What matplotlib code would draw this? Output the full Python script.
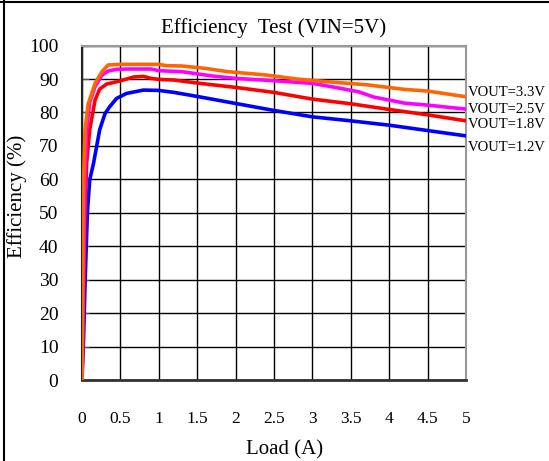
import matplotlib
matplotlib.use("Agg")
import matplotlib.pyplot as plt
from matplotlib.lines import Line2D

plt.rcParams['font.family'] = ['Liberation Serif', 'DejaVu Serif']

# Data
x_12 = [0.0, 0.02, 0.04, 0.07, 0.1, 0.15, 0.19, 0.23, 0.3, 0.36, 0.45, 0.58, 0.8, 1.0, 1.2, 1.5, 2.0, 2.5, 3.0, 3.5, 4.0, 4.5, 5.0]
y_12 = [0, 12, 29, 50, 59.8, 64.8, 69.8, 74.8, 79.7, 81.7, 84.2, 85.7, 86.7, 86.6, 86.0, 84.8, 82.7, 80.6, 78.7, 77.5, 76.2, 74.6, 73.0]

x_18 = [0.0, 0.02, 0.04, 0.06, 0.1, 0.17, 0.23, 0.32, 0.49, 0.67, 0.8, 0.9, 1.0, 1.2, 1.5, 2.0, 2.5, 3.0, 3.5, 4.0, 4.5, 5.0]
y_18 = [0, 25, 50, 64.8, 74.8, 83.7, 87.0, 88.5, 89.4, 90.6, 90.8, 90.2, 89.9, 89.7, 88.8, 87.5, 86.0, 84.0, 82.6, 80.9, 79.3, 77.5]

x_25 = [0.0, 0.02, 0.04, 0.06, 0.1, 0.17, 0.26, 0.34, 0.45, 0.6, 0.9, 1.0, 1.3, 1.7, 2.0, 2.5, 3.0, 3.3, 3.6, 3.8, 4.2, 4.5, 5.0]
y_25 = [0, 35, 62, 74.8, 83.0, 87.7, 91.2, 92.4, 92.9, 93.0, 93.0, 92.5, 92.2, 90.9, 90.2, 89.5, 88.7, 87.5, 86.2, 84.6, 82.8, 82.2, 81.0]

x_33 = [0.0, 0.01, 0.02, 0.04, 0.08, 0.17, 0.26, 0.34, 0.5, 1.0, 1.1, 1.3, 1.6, 1.9, 2.4, 2.8, 3.3, 3.7, 4.2, 4.5, 5.0]
y_33 = [0, 35, 60, 74.8, 82.5, 88.7, 92.2, 94.2, 94.4, 94.4, 94.0, 93.9, 93.2, 92.2, 91.2, 90.0, 89.0, 88.3, 86.9, 86.4, 84.7]

series = [
    (x_33, y_33, '#FF6600', 'VOUT=3.3V', 86.1),
    (x_25, y_25, '#FF00FF', 'VOUT=2.5V', 81.0),
    (x_18, y_18, '#FF0000', 'VOUT=1.8V', 76.4),
    (x_12, y_12, '#0000FF', 'VOUT=1.2V', 69.6),
]

x_ticks = [0, 0.5, 1, 1.5, 2, 2.5, 3, 3.5, 4, 4.5, 5]
x_ticklabels = ['0', '0.5', '1', '1.5', '2', '2.5', '3', '3.5', '4', '4.5', '5']
y_ticks = [0, 10, 20, 30, 40, 50, 60, 70, 80, 90, 100]

fig = plt.figure(figsize=(5.49, 4.61), dpi=100)
ax = fig.add_axes([82/549, 1-380/461, (466-82)/549, (380-45.6)/461])

ax.set_xlim(0, 5)
ax.set_ylim(0, 100)
ax.set_xticks(x_ticks)
ax.set_xticklabels(x_ticklabels)
ax.set_yticks(y_ticks)
ax.grid(True, color='black', linewidth=1.0)
ax.set_axisbelow(True)

for xs, ys, c, lab, ly in series[::-1]:
    ax.plot(xs, ys, color=c, linewidth=2.6, solid_joinstyle='round', zorder=3)
for xs, ys, c, lab, ly in series:
    ax.text(5.03, ly, lab, fontsize=10.5, ha='left', va='center', clip_on=False)

ax.tick_params(axis='x', length=0, pad=22, labelsize=12.5)
ax.tick_params(axis='y', direction='in', length=5, color='#555555', pad=17, labelsize=14)

for s in ['top', 'right']:
    ax.spines[s].set_color('#999999')
    ax.spines[s].set_linewidth(1.5)
ax.spines['left'].set_color('#222222')
ax.spines['left'].set_linewidth(1.5)
ax.spines['bottom'].set_color('#333333')
ax.spines['bottom'].set_linewidth(2.0)

ax.set_title('Efficiency  Test (VIN=5V)', fontsize=15, pad=9)
ax.set_xlabel('Load (A)', fontsize=15)
ax.xaxis.set_label_coords((285-82)/(466-82), (380-440)/(380-45.6))
ax.set_ylabel('Efficiency (%)', fontsize=15)
ax.yaxis.set_label_coords((27-82)/(466-82), (380-196)/(380-45.6))

fig.add_artist(Line2D([3.5/549, 3.5/549], [0, 1], color='black', linewidth=1.5, transform=fig.transFigure))
fig.add_artist(Line2D([0, 1], [1-2/461, 1-2/461], color='black', linewidth=1.5, transform=fig.transFigure))

fig.savefig('out.png', dpi=100)
